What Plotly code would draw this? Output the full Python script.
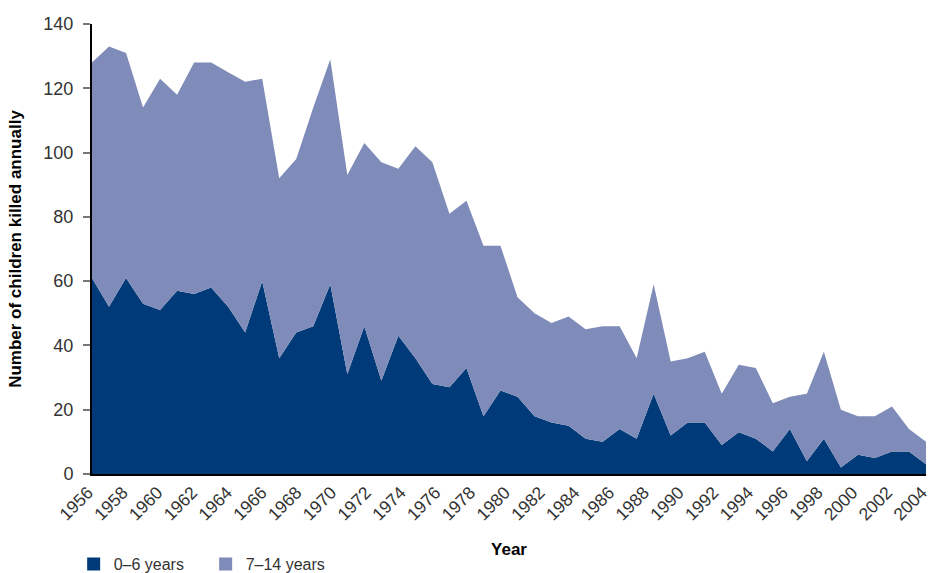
import plotly.graph_objects as go

years = list(range(1956, 2006))
age_0_6 = [61, 52, 61, 53, 51, 57, 56, 58, 52, 44,
           60, 36, 44, 46, 59, 31, 46, 29, 43, 36,
           28, 27, 33, 18, 26, 24, 18, 16, 15, 11,
           10, 14, 11, 25, 12, 16, 16, 9, 13, 11,
           7, 14, 4, 11, 2, 6, 5, 7, 7, 3]
age_7_14 = [67, 81, 70, 61, 72, 61, 72, 70, 73, 78,
            63, 56, 54, 68, 70, 62, 57, 68, 52, 66,
            69, 54, 52, 53, 45, 31, 32, 31, 34, 34,
            36, 32, 25, 34, 23, 20, 22, 16, 21, 22,
            15, 10, 21, 27, 18, 12, 13, 14, 7, 7]
tick_years = list(range(1956, 2005, 2))
y_ticks = [0, 20, 40, 60, 80, 100, 120, 140]

dark = "#013A79"
light = "#7F8BB8"
font_main = "Liberation Sans, Arial, sans-serif"

fig = go.Figure()
fig.add_trace(go.Scatter(x=years, y=age_0_6, stackgroup="one", mode="none",
                         fillcolor=dark, name="0–6 years", showlegend=False,
                         line=dict(width=0)))
fig.add_trace(go.Scatter(x=years, y=age_7_14, stackgroup="one", mode="none",
                         fillcolor=light, name="7–14 years", showlegend=False,
                         line=dict(width=0)))
# legend entries
fig.add_trace(go.Scatter(x=[None], y=[None], mode="markers", name="0–6 years",
                         marker=dict(symbol="square", size=13, color=dark)))
fig.add_trace(go.Scatter(x=[None], y=[None], mode="markers", name="7–14 years",
                         marker=dict(symbol="square", size=13, color=light)))
# label axis (labels spread across full axis width)
fig.add_trace(go.Scatter(x=[None], y=[None], xaxis="x2", showlegend=False, hoverinfo="skip"))

fig.update_layout(
    width=932, height=573,
    margin=dict(l=92, r=6, t=24, b=99, autoexpand=False),
    plot_bgcolor="white", paper_bgcolor="white",
    font=dict(family=font_main, color="#222222"),
    xaxis=dict(range=[1956, 2005], showticklabels=False, ticks="", automargin=False,
               showgrid=False, zeroline=False, showline=True,
               linecolor="black", linewidth=2),
    xaxis2=dict(overlaying="x", anchor="y", side="bottom", range=[1955.999, 2004.001],
                tickmode="array", tickvals=tick_years, automargin=False,
                ticktext=[str(t) for t in tick_years], tickangle=-45,
                ticklabeloverflow="allow", ticklabelstandoff=4, ticklabelshift=-4,
                tickfont=dict(size=17.5, color="#333333", family=font_main),
                showgrid=False, zeroline=False, showline=False, ticks="",
                title=dict(text="<b>Year</b>", font=dict(size=17, color="black"), standoff=19)),
    yaxis=dict(range=[0, 140], tickvals=y_ticks, showgrid=False, zeroline=False,
               showline=True, linecolor="black", linewidth=2, automargin=False,
               ticks="outside", ticklen=7, tickcolor="#777777", tickwidth=2,
               ticklabelstandoff=6,
               tickfont=dict(size=18, color="#333333", family=font_main),
               title=dict(text="<b>Number of children killed annually</b>",
                          font=dict(size=17, color="black"), standoff=17)),
    legend=dict(orientation="h", x=-0.022, xanchor="left", y=-0.2, yanchor="middle",
                font=dict(size=16, color="#333333"), entrywidth=87, traceorder="normal",
                bgcolor="rgba(0,0,0,0)"),
)

fig.write_html("out.html", config={"displayModeBar": False},
               post_script="document.body.style.margin='0';document.body.style.overflow='hidden';")
